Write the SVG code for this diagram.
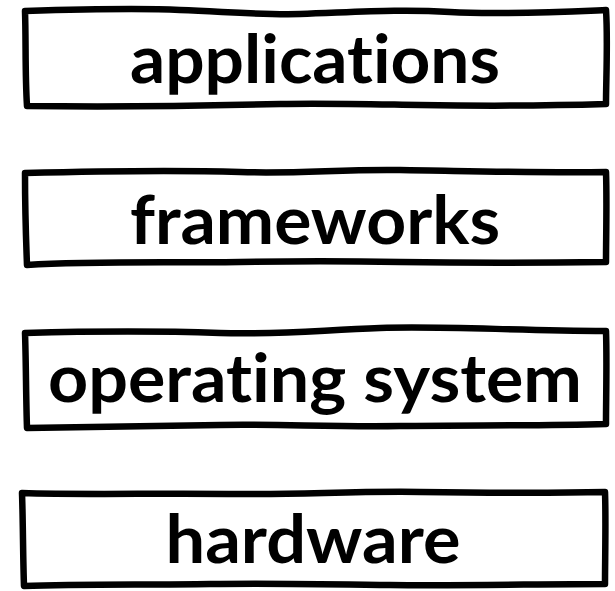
<svg xmlns="http://www.w3.org/2000/svg" width="615" height="591" viewBox="0 0 615 591">
<style>
.box{fill:#fff;stroke:#000;stroke-width:6.5;stroke-linejoin:round;stroke-linecap:round}
.lbl{font-family:Lato,"Open Sans","Liberation Sans",sans-serif;font-weight:bold;font-size:66px;fill:#000;text-anchor:middle;font-variant-ligatures:none;font-feature-settings:"liga" 0}
</style>
<rect width="615" height="591" fill="#fff"/>
<g id="applications">
<path class="box" d="M25,11 C90,9 140,8 180,10 C230,12 260,15 300,14 C360,12 400,9 450,12 C500,15 560,12 606,10 C608,40 606,80 606,104 C540,106 480,106 420,105 C360,104 320,103 280,104 C200,106 100,107 27,106 C25,75 26,40 25,11 Z"/>
<text class="lbl" x="315" y="83" textLength="370" lengthAdjust="spacingAndGlyphs">applications</text>
</g>
<g id="frameworks">
<path class="box" d="M25,173 C100,171 180,170 240,172 C300,174 340,169 400,170 C470,171 540,173 606,172 C607,200 606,240 606,262 C540,263 460,263 400,262 C340,261 300,261 240,262 C160,263 90,261 27,265 C26,240 25,200 25,173 Z"/>
<text class="lbl" x="315" y="244" textLength="370" lengthAdjust="spacingAndGlyphs">frameworks</text>
</g>
<g id="operating-system">
<path class="box" d="M25,333 C100,331 160,331 220,333 C280,335 320,330 380,328 C440,326 500,330 606,331 C607,360 606,400 606,424 C540,426 470,425 400,426 C330,427 280,424 220,425 C150,426 80,427 27,428 C26,400 26,360 25,333 Z"/>
<text class="lbl" x="315" y="402" textLength="534" lengthAdjust="spacingAndGlyphs">operating system</text>
</g>
<g id="hardware">
<path class="box" d="M22,493 C80,495 160,493 240,494 C300,495 350,491 420,492 C500,493 560,493 605,492 C606,520 605,560 605,584 C540,584 460,586 390,585 C320,584 270,583 210,584 C150,585 80,584 24,586 C23,560 23,520 22,493 Z"/>
<text class="lbl" x="313" y="563" textLength="295" lengthAdjust="spacingAndGlyphs">hardware</text>
</g>
</svg>
